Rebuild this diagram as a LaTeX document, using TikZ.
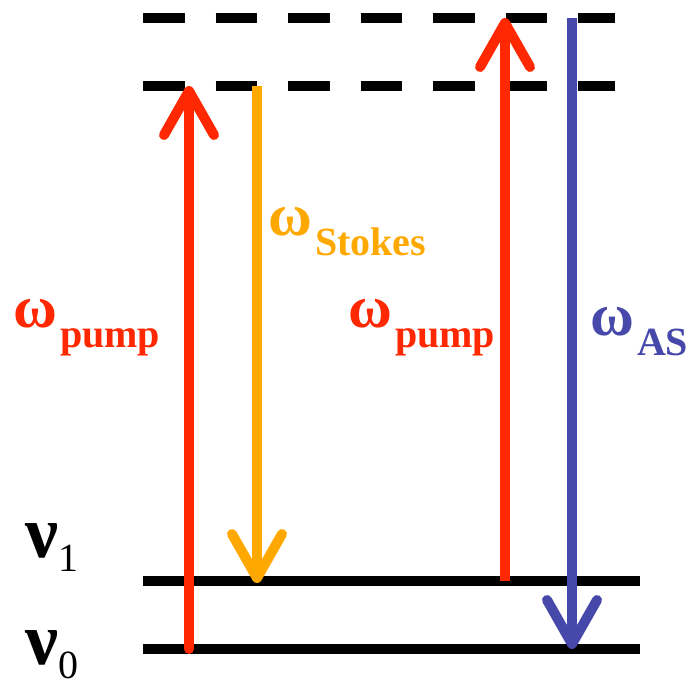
\documentclass[tikz,border=0pt]{standalone}
\usepackage{fontspec}
\setmainfont{Liberation Serif}
\usetikzlibrary{arrows.meta}
\definecolor{pumpred}{RGB}{255,40,0}
\definecolor{stokesorange}{RGB}{255,168,0}
\definecolor{asblue}{RGB}{70,72,170}
\newcommand{\omlabel}[1]{{\fontsize{60}{60}\selectfont ω}\kern3pt{\fontsize{40}{40}\selectfont\raisebox{-20pt}{#1}}}
\newcommand{\nulabel}[1]{{\fontsize{74}{74}\selectfont ν}{\mdseries\fontsize{40}{40}\selectfont\raisebox{-14pt}{#1}}}
\begin{document}
\begin{tikzpicture}[x=1pt,y=-1pt,
  level/.style={line width=10pt},
  dlevel/.style={line width=10pt, dash pattern=on 41.5pt off 31pt},
  trans/.style={line width=10pt, line cap=round, -{Straight Barb[length=44pt,width=50pt,round]}},
  lbl/.style={inner sep=0pt, anchor=base west, font=\bfseries}]
\useasboundingbox (0,0) rectangle (690,686);
% levels
\coordinate (v0l) at (143,649); \coordinate (v0r) at (640,649);
\coordinate (v1l) at (143,581); \coordinate (v1r) at (640,581);
\coordinate (d1l) at (143,86);  \coordinate (d1r) at (615,86);
\coordinate (d2l) at (143,18);  \coordinate (d2r) at (615,18);
\draw[level] (v0l) -- (v0r);
\draw[level] (v1l) -- (v1r);
\draw[dlevel] (d1l) -- (d1r);
\draw[dlevel] (d2l) -- (d2r);
% transitions
\coordinate (a1s) at (189,649); \coordinate (a1e) at (189,86);
\coordinate (a2s) at (257,86);  \coordinate (a2e) at (257,583);
\coordinate (a3s) at (505,581); \coordinate (a3e) at (505,18);
\coordinate (a4s) at (572,18);  \coordinate (a4e) at (572,649);
\draw[trans, pumpred] (a1s) -- (a1e);
\draw[trans, stokesorange, line cap=butt] (a2s) -- (a2e);
\draw[trans, pumpred, line cap=butt] (a3s) -- (a3e);
\draw[trans, asblue, line cap=butt] (a4s) -- (a4e);
% labels
\node[lbl, text=pumpred] (lp1) at (13,327) {\omlabel{pump}};
\node[lbl, text=stokesorange] (ls) at (268,235) {\omlabel{Stokes}};
\node[lbl, text=pumpred] (lp2) at (348,327) {\omlabel{pump}};
\node[lbl, text=asblue] (las) at (590,335) {\omlabel{AS}};
\node[lbl] (n1) at (25,557) {\nulabel{1}};
\node[lbl] (n0) at (25,664) {\nulabel{0}};
\end{tikzpicture}
\end{document}
